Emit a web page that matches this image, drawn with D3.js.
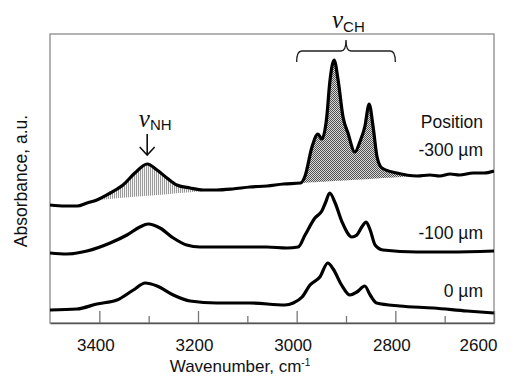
<!DOCTYPE html>
<html>
<head>
<meta charset="utf-8">
<script src="https://cdn.jsdelivr.net/npm/d3@7"></script>
<style>
  body { margin: 0; background: #fff; }
  svg { display: block; font-family: Arial, "Liberation Sans", sans-serif; }
</style>
</head>
<body>
<div id="chart"></div>
<script>
// tick labels
var xTicks = [3400, 3200, 3000, 2800, 2600],
    xMinor = [3300, 3100, 2900, 2700];

var traceNames = ["-300 µm", "-100 µm", "0 µm"];

// [wavenumber, absorbance (offset, a.u.)]
var trace300 = [
  [3500, 1.18], [3470, 1.17], [3445, 1.17], [3425, 1.20], [3405, 1.23], [3378, 1.30], [3352, 1.38],
  [3328, 1.50], [3303, 1.59], [3283, 1.53], [3263, 1.45], [3243, 1.38], [3216, 1.35],
  [3190, 1.33], [3162, 1.33], [3130, 1.34], [3095, 1.36], [3060, 1.37], [3027, 1.39],
  [2992, 1.40], [2983, 1.47], [2969, 1.76], [2957, 1.89], [2949, 1.84], [2939, 2.06],
  [2933, 2.40], [2924, 2.63], [2916, 2.43], [2906, 2.06], [2896, 1.90], [2882, 1.71],
  [2872, 1.81], [2862, 1.96], [2853, 2.19], [2845, 1.96], [2837, 1.66], [2827, 1.55],
  [2797, 1.50], [2756, 1.47], [2730, 1.48], [2710, 1.47], [2689, 1.49], [2670, 1.48],
  [2642, 1.50], [2620, 1.50], [2600, 1.52]
];
var trace100 = [
  [3500, 0.70], [3466, 0.69], [3425, 0.72], [3378, 0.80], [3344, 0.88], [3318, 0.96],
  [3301, 0.99], [3277, 0.95], [3250, 0.85], [3223, 0.78], [3196, 0.76], [3129, 0.76],
  [3061, 0.76], [3020, 0.75], [2997, 0.76], [2983, 0.88], [2963, 1.05], [2949, 1.12],
  [2941, 1.21], [2933, 1.30], [2922, 1.20], [2908, 1.01], [2888, 0.86], [2878, 0.88],
  [2868, 0.96], [2859, 1.01], [2851, 0.93], [2841, 0.78], [2825, 0.73], [2756, 0.71],
  [2689, 0.71], [2600, 0.72]
];
var trace0 = [
  [3500, 0.13], [3445, 0.14], [3405, 0.19], [3364, 0.23], [3331, 0.33], [3307, 0.40],
  [3283, 0.37], [3250, 0.28], [3216, 0.22], [3162, 0.20], [3095, 0.20], [3024, 0.18],
  [3007, 0.20], [2989, 0.26], [2973, 0.38], [2953, 0.46], [2937, 0.60], [2926, 0.54],
  [2909, 0.38], [2892, 0.28], [2878, 0.31], [2862, 0.37], [2851, 0.28], [2838, 0.20],
  [2791, 0.17], [2723, 0.15], [2655, 0.12], [2600, 0.10]
];

// integrated bands (shaded on top trace)
var nhBand = [3405, 3162],
    chBand = [2992, 2756],
    chBrace = [3000, 2900, 2800];

var width = 513, height = 376,
    margin = {left: 50, right: 19, top: 34, bottom: 53};

var x = d3.scaleLinear().domain([3500, 2600]).range([margin.left, width - margin.right]);
var y = d3.scaleLinear().domain([0, 2.89]).range([height - margin.bottom, margin.top]);

var svg = d3.select("#chart").append("svg")
    .attr("width", width)
    .attr("height", height);

var defs = svg.append("defs");
var dots = defs.append("pattern").attr("id", "dots")
    .attr("width", 2).attr("height", 2).attr("patternUnits", "userSpaceOnUse");
dots.append("rect").attr("width", 2).attr("height", 2).attr("fill", "#dadada");
dots.append("rect").attr("width", 1).attr("height", 1).attr("fill", "#505050");
dots.append("rect").attr("x", 1).attr("y", 1).attr("width", 1).attr("height", 1).attr("fill", "#505050");

var stripes = defs.append("pattern").attr("id", "stripes")
    .attr("width", 2).attr("height", 2).attr("patternUnits", "userSpaceOnUse");
stripes.append("rect").attr("width", 2).attr("height", 2).attr("fill", "#f4f4f4");
stripes.append("rect").attr("width", 1).attr("height", 2).attr("fill", "#9a9a9a");

defs.append("clipPath").attr("id", "plot")
    .append("rect")
    .attr("x", margin.left).attr("y", margin.top)
    .attr("width", width - margin.left - margin.right)
    .attr("height", height - margin.top - margin.bottom);

// frame
svg.append("rect")
    .attr("x", margin.left).attr("y", margin.top)
    .attr("width", width - margin.left - margin.right)
    .attr("height", height - margin.top - margin.bottom)
    .attr("fill", "none")
    .attr("stroke", "#9a9a9a")
    .attr("stroke-width", 1.5);

function band(trace, range) {
    var pts = trace.filter(function (d) { return d[0] <= range[0] && d[0] >= range[1]; });
    var a = pts[0], b = pts[pts.length - 1];
    var base = d3.scaleLinear().domain([a[0], b[0]]).range([a[1], b[1]]);
    return pts.map(function (d) { return {w: d[0], top: d[1], base: base(d[0])}; });
}

var area = d3.area()
    .x(function (d) { return x(d.w); })
    .y0(function (d) { return y(d.base); })
    .y1(function (d) { return y(d.top); })
    .curve(d3.curveMonotoneX);

var line = d3.line()
    .x(function (d) { return x(d[0]); })
    .y(function (d) { return y(d[1]); })
    .curve(d3.curveMonotoneX);

var g = svg.append("g").attr("clip-path", "url(#plot)");

g.append("path").attr("d", area(band(trace300, nhBand))).attr("fill", "url(#stripes)");
g.append("path").attr("d", area(band(trace300, chBand))).attr("fill", "url(#dots)");

g.selectAll("path.trace")
    .data([trace300, trace100, trace0])
    .enter().append("path")
    .attr("class", "trace")
    .attr("d", line)
    .attr("fill", "none")
    .attr("stroke", "#000")
    .attr("stroke-width", 3.2)
    .attr("stroke-linejoin", "round");

// x axis, ticks pointing inward
var axisY = height - margin.bottom;
var xAxis = svg.append("g")
    .attr("transform", "translate(0," + axisY + ")")
    .call(d3.axisBottom(x).tickValues(xTicks).tickFormat(d3.format("d"))
        .tickSizeInner(-12).tickSizeOuter(0).tickPadding(16));
xAxis.select(".domain").attr("stroke", "#555").attr("stroke-width", 1.5);
xAxis.selectAll(".tick line").attr("stroke", "#777").attr("stroke-width", 1.3);
xAxis.selectAll(".tick text")
    .attr("font-size", 17)
    .attr("font-family", "Arial, 'Liberation Sans', sans-serif")
    .attr("fill", "#111")
    .attr("dx", function (d) { return d === 2600 ? -16 : -4; });

var xMinorAxis = svg.append("g")
    .attr("transform", "translate(0," + axisY + ")")
    .call(d3.axisBottom(x).tickValues(xMinor).tickSizeInner(-7).tickSizeOuter(0).tickFormat(""));
xMinorAxis.select(".domain").remove();
xMinorAxis.selectAll(".tick line").attr("stroke", "#777").attr("stroke-width", 1.3);

// axis titles
var xTitle = svg.append("text")
    .attr("x", 240).attr("y", 372)
    .attr("text-anchor", "middle")
    .attr("font-size", 17)
    .attr("fill", "#111");
xTitle.append("tspan").text("Wavenumber, cm");
xTitle.append("tspan").attr("font-size", 10).attr("dy", -6).text("-1");

svg.append("text")
    .attr("transform", "translate(27,181) rotate(-90)")
    .attr("text-anchor", "middle")
    .attr("font-size", 17.5)
    .attr("fill", "#111")
    .text("Absorbance, a.u.");

// position labels
svg.append("text")
    .attr("x", 483).attr("y", 128)
    .attr("text-anchor", "end")
    .attr("font-size", 17.5)
    .attr("fill", "#111")
    .text("Position");

svg.selectAll("text.pos")
    .data(traceNames)
    .enter().append("text")
    .attr("class", "pos")
    .attr("x", 483)
    .attr("y", function (d, i) { return [156, 239, 297][i]; })
    .attr("text-anchor", "end")
    .attr("font-size", 17.5)
    .attr("fill", "#111")
    .text(function (d) { return d; });

// nu_NH label and arrow
var nh = svg.append("text").attr("x", x(3320)).attr("y", 127).attr("fill", "#111");
nh.append("tspan").attr("font-family", "'Liberation Serif', 'DejaVu Serif', serif")
    .attr("font-style", "italic").attr("font-size", 25).text("ν");
nh.append("tspan").attr("font-size", 15).attr("dy", 3).text("NH");

var ax = x(3303);
svg.append("path")
    .attr("d", "M" + ax + ",134 V155 M" + (ax - 7.5) + ",147 L" + ax + ",155 L" + (ax + 7.5) + ",147")
    .attr("fill", "none")
    .attr("stroke", "#111")
    .attr("stroke-width", 1.6);

// nu_CH label and brace
var bl = x(chBrace[0]), bm = x(chBrace[1]), br = x(chBrace[2]);
svg.append("path")
    .attr("d", "M" + bl + ",62 Q" + bl + ",51 " + (bl + 5) + ",51 L" + (bm - 5) + ",51 Q" + bm + ",51 " + bm + ",40" +
               " Q" + bm + ",51 " + (bm + 5) + ",51 L" + (br - 5) + ",51 Q" + br + ",51 " + br + ",62")
    .attr("fill", "none")
    .attr("stroke", "#222")
    .attr("stroke-width", 1.4);

var ch = svg.append("text").attr("x", bm - 14).attr("y", 28).attr("fill", "#111");
ch.append("tspan").attr("font-family", "'Liberation Serif', 'DejaVu Serif', serif")
    .attr("font-style", "italic").attr("font-size", 25).text("ν");
ch.append("tspan").attr("font-size", 15).attr("dy", 4).text("CH");
</script>
</body>
</html>
